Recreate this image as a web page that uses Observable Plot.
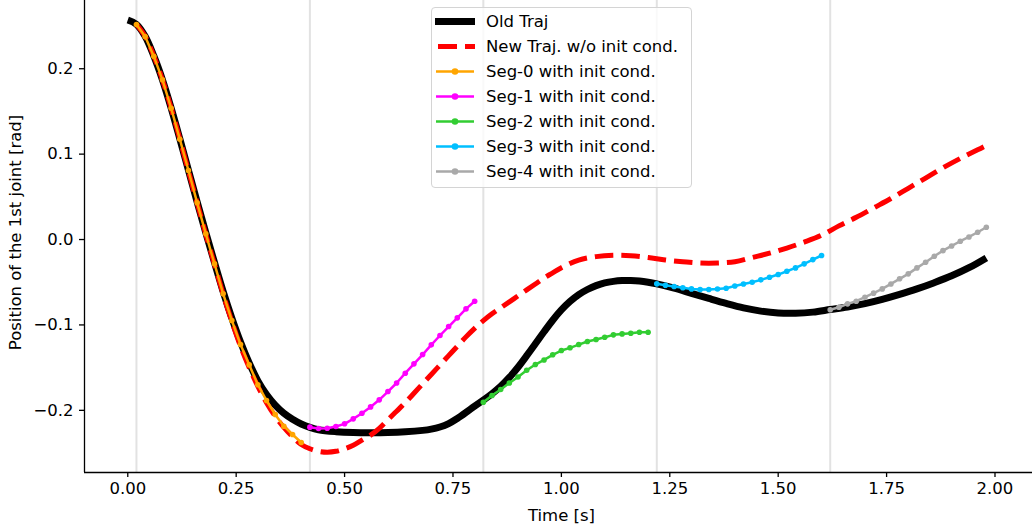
<!DOCTYPE html>
<html><head><meta charset="utf-8">
<script src="https://cdn.jsdelivr.net/npm/d3@7"></script>
<script src="https://cdn.jsdelivr.net/npm/@observablehq/plot@0.6"></script>
<style>
html,body{margin:0;padding:0;background:#fff;}
#wrap{position:relative;width:1032px;height:531px;overflow:hidden;}
#legend{position:absolute;left:431px;top:7px;width:261px;height:181px;border:1px solid #d4d4d4;border-radius:4px;background:rgba(255,255,255,0.8);font-family:"DejaVu Sans";font-size:16.5px;color:#000;box-sizing:border-box;padding-top:1px;}
.row{height:25px;position:relative;}
.row svg{position:absolute;left:0;top:0;}
.row span{position:absolute;left:54px;top:0;white-space:nowrap;line-height:25px;}
</style></head><body><div id="wrap"></div>
<script>
// ---- data ----
const xTicks = [0, 0.25, 0.5, 0.75, 1.0, 1.25, 1.5, 1.75, 2.0];
const yTicks = [-0.2, -0.1, 0.0, 0.1, 0.2];
const xLabel = "Time [s]";
const yLabel = "Position of the 1st joint [rad]";

const seriesNames = ["Old Traj", "New Traj. w/o init cond.", "Seg-0 with init cond.", "Seg-1 with init cond.", "Seg-2 with init cond.", "Seg-3 with init cond.", "Seg-4 with init cond."];
const segColors = ["#ffa500", "#ff00ff", "#32cd32", "#00bfff", "#a9a9a9"];
const segStarts = [0.02, 0.42, 0.82, 1.22, 1.62];
const segStep = 0.02;

const oldT = [0.00,0.02,0.04,0.06,0.08,0.10,0.12,0.14,0.16,0.18,0.20,0.22,0.24,0.26,0.28,0.30,0.32,0.34,0.36,0.38,0.40,0.42,0.44,
  0.48,0.52,0.56,0.60,0.64,0.68,
  0.70,0.72,0.74,0.76,0.78,0.80,0.82,0.84,0.86,0.88,0.90,0.92,0.94,0.96,0.98,1.00,1.02,1.04,1.06,1.08,1.10,1.12,1.14,1.16,1.18,1.20,1.22,
  1.26,1.30,1.34,1.38,1.42,1.46,1.50,1.54,1.58,1.62,
  1.66,1.70,1.74,1.78,1.82,1.86,1.90,1.94,1.98];
const oldY = [0.257,0.252,0.238,0.215,0.187,0.154,0.118,0.081,0.044,0.008,-0.027,-0.061,-0.092,-0.120,-0.1445,-0.1655,-0.1815,-0.1940,-0.2035,-0.2105,-0.2160,-0.2200,-0.2228,
  -0.2250,-0.2260,-0.2262,-0.2260,-0.2252,-0.2235,
  -0.2220,-0.2195,-0.2155,-0.2095,-0.2025,-0.1950,-0.1880,-0.1805,-0.1720,-0.1615,-0.1495,-0.1360,-0.1220,-0.1080,-0.0945,-0.0825,-0.0725,-0.0645,-0.0585,-0.0540,-0.0508,-0.0490,-0.0481,-0.0480,-0.0486,-0.0500,-0.0520,
  -0.0570,-0.0630,-0.0690,-0.0748,-0.0800,-0.0838,-0.0860,-0.0863,-0.0850,-0.0820,
  -0.0790,-0.0750,-0.0700,-0.0642,-0.0578,-0.0505,-0.0425,-0.0330,-0.0215];

const newT = [0.02,0.04,0.06,0.08,0.10,0.12,0.14,0.16,0.18,0.20,0.22,0.24,0.26,0.28,0.30,0.32,0.34,0.36,0.38,0.40,
  0.42,0.44,0.46,0.48,0.50,0.52,0.54,0.56,0.58,0.60,0.62,0.64,0.66,0.68,0.70,0.72,0.74,0.76,0.78,0.80,
  0.82,0.84,0.86,0.88,0.90,0.92,0.94,0.96,0.98,1.00,
  1.04,1.08,1.12,1.16,1.20,1.24,1.28,1.32,1.36,1.40,1.44,1.48,1.52,1.56,1.60,1.64,1.68,1.72,1.76,1.80,1.84,1.88,1.92,1.96,1.98];
const newY = [0.252,0.238,0.215,0.187,0.154,0.118,0.080,0.043,0.006,-0.029,-0.064,-0.096,-0.125,-0.150,-0.172,-0.191,-0.207,-0.220,-0.231,-0.240,
  -0.245,-0.248,-0.249,-0.248,-0.245,-0.241,-0.235,-0.229,-0.221,-0.211,-0.201,-0.191,-0.180,-0.169,-0.158,-0.147,-0.136,-0.125,-0.114,-0.104,
  -0.095,-0.087,-0.080,-0.073,-0.066,-0.059,-0.052,-0.045,-0.039,-0.033,
  -0.024,-0.020,-0.0185,-0.019,-0.021,-0.024,-0.026,-0.0275,-0.0275,-0.026,-0.021,-0.016,-0.010,-0.003,0.005,0.016,0.026,0.037,0.048,0.060,0.072,0.084,0.095,0.105,0.110];

const seg0 = [0.2517,0.2377,0.2146,0.1870,0.1538,0.1175,0.0808,0.0430,0.0067,-0.0285,-0.0636,-0.0948,-0.1230,-0.1467,-0.1700,-0.1885,-0.2049,-0.2186,-0.2283,-0.2377];
const seg1 = [-0.2197,-0.2213,-0.2210,-0.2190,-0.2158,-0.2100,-0.2035,-0.1960,-0.1877,-0.1780,-0.1680,-0.1565,-0.1456,-0.1347,-0.1233,-0.1124,-0.1019,-0.0917,-0.0812,-0.0722];
const seg2 = [-0.1905,-0.1827,-0.1756,-0.1680,-0.1610,-0.1530,-0.1464,-0.1410,-0.1350,-0.1300,-0.1268,-0.1230,-0.1194,-0.1170,-0.1144,-0.1116,-0.1105,-0.1097,-0.1085,-0.1085];
const seg3 = [-0.0519,-0.0535,-0.0550,-0.0565,-0.0578,-0.0585,-0.0585,-0.0580,-0.0570,-0.0545,-0.0520,-0.0500,-0.0472,-0.0441,-0.0410,-0.0371,-0.0332,-0.0285,-0.0235,-0.0187];
const seg4 = [-0.0823,-0.0793,-0.0753,-0.0722,-0.0675,-0.0628,-0.0578,-0.0520,-0.0460,-0.0402,-0.0332,-0.0266,-0.0195,-0.0130,-0.0075,-0.0020,0.0030,0.0085,0.0144];
const segValues = [seg0, seg1, seg2, seg3, seg4];

// ---- build tables ----
const oldData = oldT.map((t, i) => ({t, v: oldY[i]}));
const newData = newT.map((t, i) => ({t, v: newY[i]}));
const segData = segValues.map((vals, s) => vals.map((v, i) => ({t: +(segStarts[s] + i * segStep).toFixed(2), v})));

const xDomain = [-0.0998, 2.0865];
const yDomain = [-0.2728, 0.2799];

const segMarks = [];
segData.forEach((d, s) => {
  segMarks.push(Plot.line(d, {x: "t", y: "v", stroke: segColors[s], strokeWidth: 2.5}));
  segMarks.push(Plot.dot(d, {x: "t", y: "v", fill: segColors[s], r: 2.8, stroke: "none"}));
});

const chart = Plot.plot({
  width: 1032, height: 531,
  marginLeft: 84, marginRight: 0, marginTop: 0, marginBottom: 59,
  style: {fontFamily: "DejaVu Sans", fontSize: "16.5px", background: "white", color: "black", overflow: "visible"},
  x: {domain: xDomain},
  y: {domain: yDomain},
  marks: [
    Plot.ruleX(segStarts, {stroke: "#e2e2e2", strokeWidth: 2}),
    Plot.line(oldData, {x: "t", y: "v", stroke: "black", strokeWidth: 7, curve: "catmull-rom", strokeLinecap: "butt"}),
    Plot.line(newData, {x: "t", y: "v", stroke: "#ff0000", strokeWidth: 5, curve: "catmull-rom", strokeDasharray: "18.5,8", strokeLinecap: "butt"}),
    ...segMarks,
    Plot.ruleX([xDomain[0]], {stroke: "black", strokeWidth: 1.3}),
    Plot.ruleY([yDomain[0]], {stroke: "black", strokeWidth: 1.3}),
    Plot.axisX({ticks: xTicks, tickFormat: d3.format(".2f"), tickSize: 5, tickPadding: 5, label: null, strokeWidth: 1.3}),
    Plot.axisY({ticks: yTicks, tickFormat: d3.format(".1f"), tickSize: 5, tickPadding: 6, label: null, strokeWidth: 1.3}),
    Plot.text([xLabel], {text: d => d, frameAnchor: "bottom", textAnchor: "middle", lineAnchor: "middle", dy: 43, dx: 3, fontSize: 16.5}),
    Plot.text([yLabel], {text: d => d, frameAnchor: "left", textAnchor: "middle", lineAnchor: "middle", rotate: -90, dx: -69, dy: -4, fontSize: 16.5})
  ]
});

const wrap = document.getElementById("wrap");
wrap.appendChild(chart);

// ---- legend ----
const legend = document.createElement("div");
legend.id = "legend";
seriesNames.forEach((name, i) => {
  const row = document.createElement("div");
  row.className = "row";
  let handle;
  if (i === 0) {
    handle = `<svg width="50" height="25"><line x1="3" x2="43" y1="12.5" y2="12.5" stroke="black" stroke-width="7"/></svg>`;
  } else if (i === 1) {
    handle = `<svg width="50" height="25"><line x1="6" x2="43" y1="12.5" y2="12.5" stroke="#ff0000" stroke-width="5" stroke-dasharray="19,8"/></svg>`;
  } else {
    const c = segColors[i - 2];
    handle = `<svg width="50" height="25"><line x1="4" x2="42" y1="12.5" y2="12.5" stroke="${c}" stroke-width="2.5"/><circle cx="23" cy="12.5" r="3.3" fill="${c}"/></svg>`;
  }
  row.innerHTML = handle + `<span>${name}</span>`;
  legend.appendChild(row);
});
wrap.appendChild(legend);
</script>
</body></html>
